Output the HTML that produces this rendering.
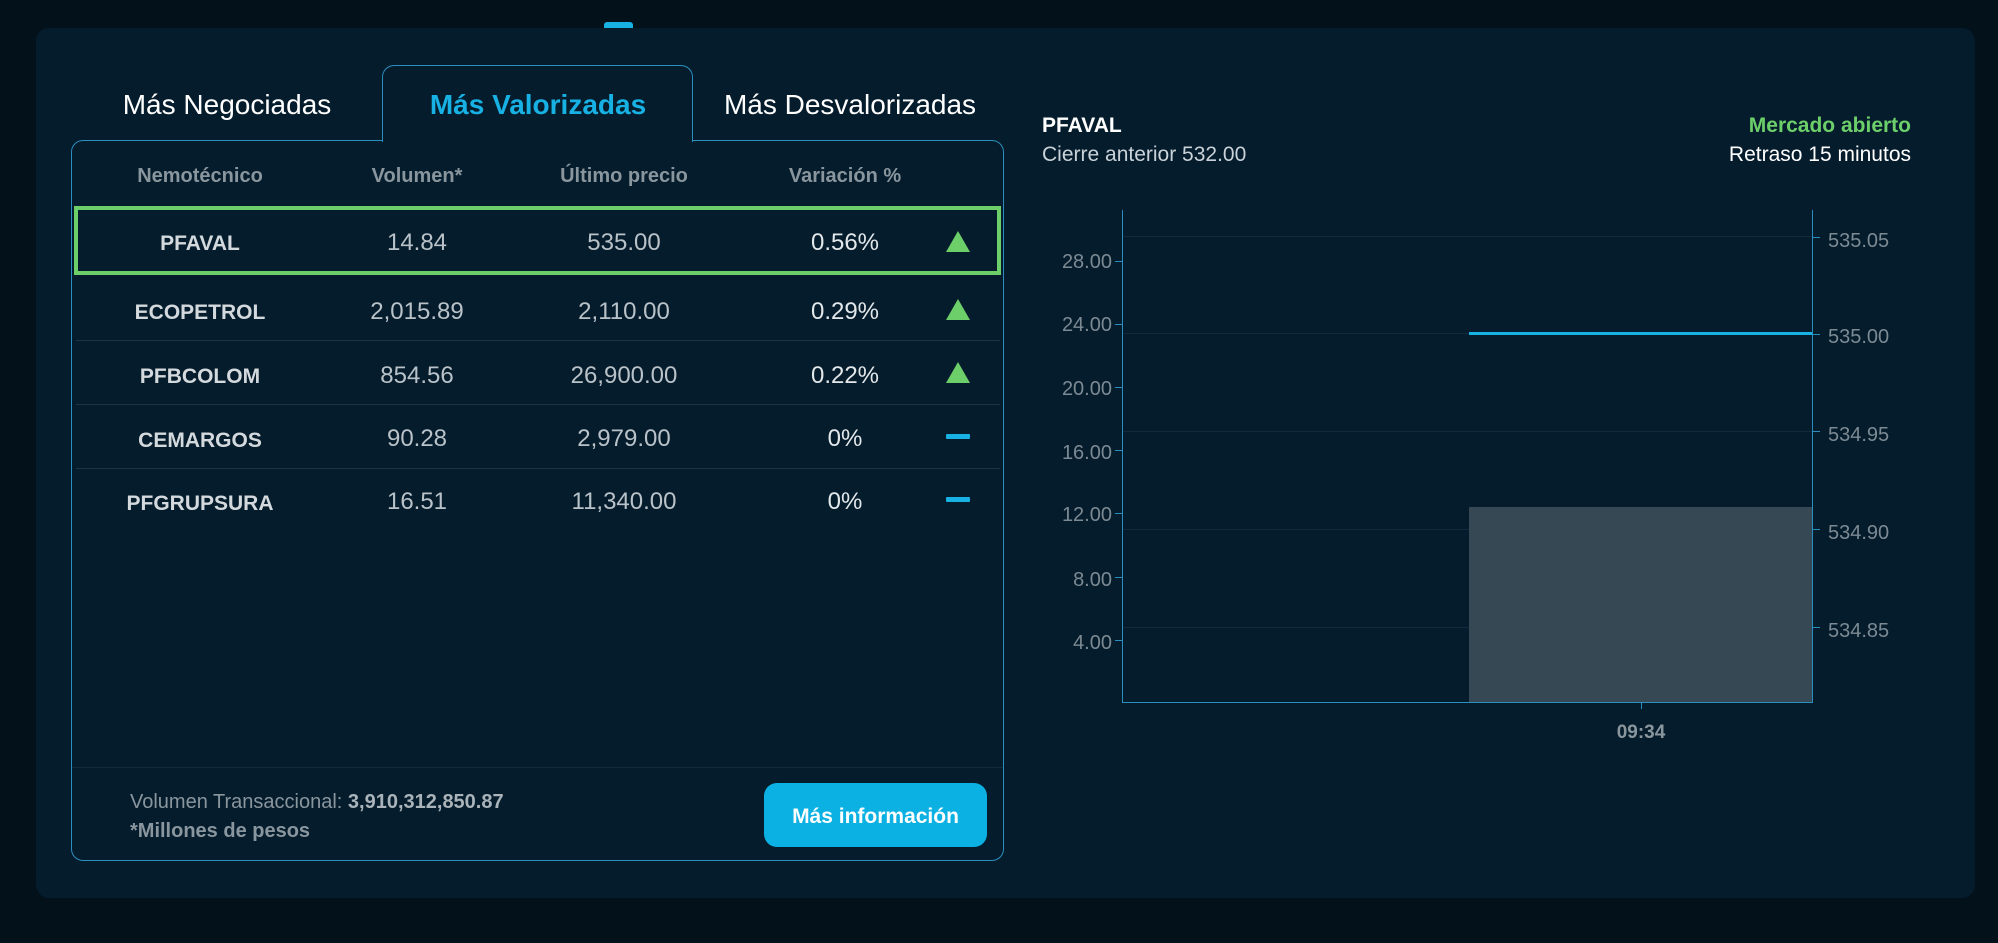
<!DOCTYPE html>
<html><head><meta charset="utf-8"><style>
*{margin:0;padding:0;box-sizing:border-box}
body{width:1998px;height:943px;background:#03111b;font-family:"Liberation Sans",sans-serif;position:relative;overflow:hidden;color:#c9d2d8}
.a{position:absolute;white-space:nowrap}
.t{margin-top:3px}
.c{transform:translateX(-50%)}
.card{left:36px;top:28px;width:1939px;height:870px;background:#051c2c;border-radius:13px}
.panel{left:71px;top:140px;width:933px;height:721px;border:1.5px solid #2a8fbf;border-radius:12px}
.tab{left:382px;top:65px;width:311px;height:77px;border:1.5px solid #2a8fbf;border-bottom:none;border-radius:12px 12px 0 0;background:#051c2c}
.th{font-weight:bold;font-size:20px;color:#8a969e;top:162px}
.nm{font-weight:bold;font-size:21px;color:#d3d9dd}
.v{font-size:24px;color:#b9c2c8}
.sep{left:76px;width:924px;height:1px;background:#1b3445}
.up{width:0;height:0;border-left:12px solid transparent;border-right:12px solid transparent;border-bottom:21px solid #6ccf6a}
.dash{width:24px;height:5px;background:#17b1e4;border-radius:1px}
.yl{font-size:20px;color:#7c8a93}
.grid{left:1123px;width:689px;height:1px;background:#112a3d}
.tk{width:7px;height:1px;background:#2a8fbf}
</style></head><body>
<div class="a card"></div>
<div class="a" style="left:604px;top:22px;width:29px;height:6px;background:#17b1e4;border-radius:3px 3px 0 0"></div>
<div class="a panel"></div>
<div class="a tab"></div>
<div class="a" style="left:383px;top:139px;width:309px;height:4px;background:#051c2c"></div>
<div class="a c t" style="left:227px;top:86px;font-size:28px;color:#fff">Más Negociadas</div>
<div class="a c t" style="left:538px;top:86px;font-size:28px;color:#17b1e4;font-weight:bold">Más Valorizadas</div>
<div class="a c t" style="left:850px;top:86px;font-size:28px;color:#fff">Más Desvalorizadas</div>

<div class="a c th t" style="left:200px">Nemotécnico</div>
<div class="a c th t" style="left:417px">Volumen*</div>
<div class="a c th t" style="left:624px">Último precio</div>
<div class="a c th t" style="left:845px">Variación %</div>

<div class="a" style="left:74px;top:206px;width:927px;height:69px;border:4px solid #6ccf6a"></div>

<div class="a c nm t" style="left:200px;top:229px">PFAVAL</div>
<div class="a c v t" style="left:417px;top:226px">14.84</div>
<div class="a c v t" style="left:624px;top:226px">535.00</div>
<div class="a c v t" style="left:845px;top:226px;color:#e2e7ea">0.56%</div>
<div class="a up" style="left:946px;top:231px"></div>

<div class="a c nm t" style="left:200px;top:298px">ECOPETROL</div>
<div class="a c v t" style="left:417px;top:295px">2,015.89</div>
<div class="a c v t" style="left:624px;top:295px">2,110.00</div>
<div class="a c v t" style="left:845px;top:295px;color:#e2e7ea">0.29%</div>
<div class="a up" style="left:946px;top:299px"></div>
<div class="a sep" style="top:340px"></div>

<div class="a c nm t" style="left:200px;top:362px">PFBCOLOM</div>
<div class="a c v t" style="left:417px;top:359px">854.56</div>
<div class="a c v t" style="left:624px;top:359px">26,900.00</div>
<div class="a c v t" style="left:845px;top:359px;color:#e2e7ea">0.22%</div>
<div class="a up" style="left:946px;top:362px"></div>
<div class="a sep" style="top:404px"></div>

<div class="a c nm t" style="left:200px;top:426px">CEMARGOS</div>
<div class="a c v t" style="left:417px;top:422px">90.28</div>
<div class="a c v t" style="left:624px;top:422px">2,979.00</div>
<div class="a c v t" style="left:845px;top:422px;color:#e2e7ea">0%</div>
<div class="a dash" style="left:946px;top:434px"></div>
<div class="a sep" style="top:468px"></div>

<div class="a c nm t" style="left:200px;top:489px">PFGRUPSURA</div>
<div class="a c v t" style="left:417px;top:485px">16.51</div>
<div class="a c v t" style="left:624px;top:485px">11,340.00</div>
<div class="a c v t" style="left:845px;top:485px;color:#e2e7ea">0%</div>
<div class="a dash" style="left:946px;top:497px"></div>

<div class="a" style="left:72px;top:767px;width:931px;height:1px;background:#14293a"></div>
<div class="a t" style="left:130px;top:788px;font-size:20px;color:#8a969e">Volumen Transaccional: <b style="color:#a9b3b9">3,910,312,850.87</b></div>
<div class="a t" style="left:130px;top:817px;font-size:20px;color:#8a969e;font-weight:bold">*Millones de pesos</div>
<div class="a" style="left:764px;top:783px;width:223px;height:64px;background:#0bb1e2;border-radius:13px;color:#fff;font-weight:bold;font-size:21px;text-align:center;line-height:68px">Más información</div>

<div class="a t" style="left:1042px;top:111px;font-size:21px;font-weight:bold;color:#fff">PFAVAL</div>
<div class="a t" style="left:1042px;top:140px;font-size:21px;color:#c9d2d8">Cierre anterior 532.00</div>
<div class="a t" style="right:87px;top:111px;font-size:21px;font-weight:bold;color:#6ccf6a">Mercado abierto</div>
<div class="a t" style="right:87px;top:140px;font-size:21px;color:#fff">Retraso 15 minutos</div>

<div class="a grid" style="top:236px"></div>
<div class="a grid" style="top:333px"></div>
<div class="a grid" style="top:431px"></div>
<div class="a grid" style="top:529px"></div>
<div class="a grid" style="top:627px"></div>
<div class="a" style="left:1469px;top:507px;width:343px;height:195px;background:#364853"></div>
<div class="a" style="left:1469px;top:332px;width:343px;height:3px;background:#17b1e4"></div>
<div class="a" style="left:1122px;top:210px;width:1px;height:493px;background:#2a8fbf"></div>
<div class="a" style="left:1812px;top:210px;width:1px;height:493px;background:#2a8fbf"></div>
<div class="a" style="left:1122px;top:702px;width:691px;height:1px;background:#2a8fbf"></div>
<div class="a" style="left:1641px;top:702px;width:1px;height:7px;background:#2a8fbf"></div>

<div class="a tk" style="left:1115px;top:261px"></div>
<div class="a tk" style="left:1115px;top:324px"></div>
<div class="a tk" style="left:1115px;top:387px"></div>
<div class="a tk" style="left:1115px;top:450px"></div>
<div class="a tk" style="left:1115px;top:513px"></div>
<div class="a tk" style="left:1115px;top:577px"></div>
<div class="a tk" style="left:1115px;top:640px"></div>
<div class="a tk" style="left:1813px;top:237px"></div>
<div class="a tk" style="left:1813px;top:334px"></div>
<div class="a tk" style="left:1813px;top:431px"></div>
<div class="a tk" style="left:1813px;top:529px"></div>
<div class="a tk" style="left:1813px;top:627px"></div>

<div class="a yl t" style="right:886px;top:248px">28.00</div>
<div class="a yl t" style="right:886px;top:311px">24.00</div>
<div class="a yl t" style="right:886px;top:375px">20.00</div>
<div class="a yl t" style="right:886px;top:439px">16.00</div>
<div class="a yl t" style="right:886px;top:501px">12.00</div>
<div class="a yl t" style="right:886px;top:566px">8.00</div>
<div class="a yl t" style="right:886px;top:629px">4.00</div>
<div class="a yl t" style="left:1828px;top:227px">535.05</div>
<div class="a yl t" style="left:1828px;top:323px">535.00</div>
<div class="a yl t" style="left:1828px;top:421px">534.95</div>
<div class="a yl t" style="left:1828px;top:519px">534.90</div>
<div class="a yl t" style="left:1828px;top:617px">534.85</div>
<div class="a c t" style="left:1641px;top:719px;font-size:19px;color:#8a969e;font-weight:bold">09:34</div>
</body></html>
